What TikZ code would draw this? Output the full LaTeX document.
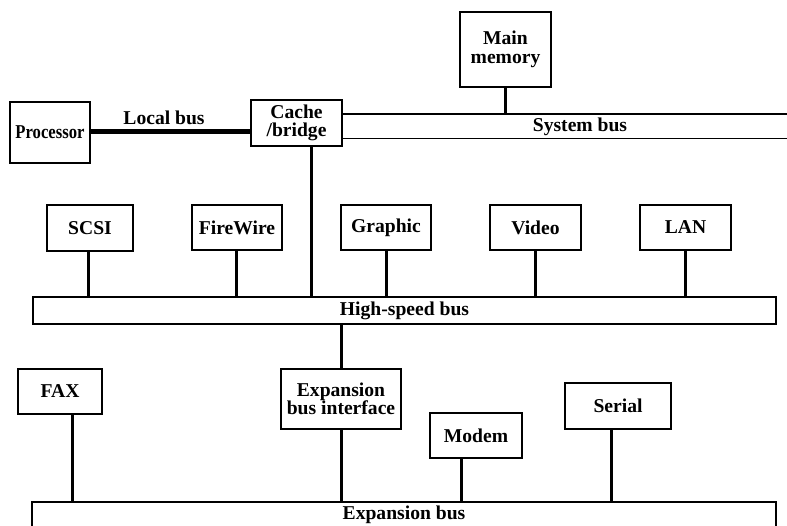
\documentclass[tikz,border=0pt]{standalone}
\usepackage{fontspec}
\usepackage{graphicx}
\setmainfont{Liberation Serif}
\begin{document}
\begin{tikzpicture}[x=1pt,y=-1pt,
  font=\bfseries\fontsize{19.6}{18.5}\selectfont,
  unit/.style={draw, line width=1.8pt, inner sep=0pt, align=center},
  busbox/.style={draw, line width=1.5pt, inner sep=0pt},
  link/.style={line width=3pt},
  localbus/.style={line width=5pt},
  busline/.style={line width=1.5pt}]
\useasboundingbox (0,0) rectangle (787,526);

% processor, cache/bridge and main memory
\node[unit, minimum width=80, minimum height=61] (proc) at (50,132.5) {\scalebox{0.85}[1]{Processor}};
\node[unit, minimum width=91, minimum height=46] (cache) at (296.5,123) {Cache\\/bridge};
\node[unit, minimum width=91, minimum height=75] (mem) at (505.5,49.5) {Main\\memory};

% local bus
\draw[localbus] (proc.east |- 0,132) -- (cache.west |- 0,132);
\node (lbl) at (164,118) {Local bus};

% system bus (two rails running off to the right)
\coordinate (sbtop) at (787,114);
\coordinate (sbbot) at (787,138.5);
\draw[busline] (cache.east |- sbtop) -- (sbtop);
\draw[busline] (cache.east |- sbbot) -- (sbbot);
\node (sblbl) at (580,127) {System bus};
\draw[link] (mem.south) -- (mem.south |- sbtop);

% high-speed bus and its devices
\node[busbox, minimum width=743, minimum height=27] (hs) at (404.5,310.5) {High-speed bus};
\node[unit, minimum width=86, minimum height=46] (scsi) at (90,228) {SCSI};
\node[unit, minimum width=90, minimum height=45] (fw) at (237,227.5) {FireWire};
\node[unit, minimum width=90, minimum height=45] (gfx) at (386,227.5) {Graphic};
\node[unit, minimum width=91, minimum height=45] (video) at (535.5,227.5) {Video};
\node[unit, minimum width=91, minimum height=45] (lan) at (685.5,227.5) {LAN};

\draw[link] ([xshift=-2pt]scsi.south) -- ([xshift=-2pt]scsi.south |- hs.north);
\draw[link] ([xshift=-1pt]fw.south) -- ([xshift=-1pt]fw.south |- hs.north);
\draw[link] (gfx.south) -- (gfx.south |- hs.north);
\draw[link] (video.south) -- (video.south |- hs.north);
\draw[link] (lan.south) -- (lan.south |- hs.north);
\draw[link] ([xshift=14.5pt]cache.south) -- ([xshift=14.5pt]cache.south |- hs.north);

% expansion bus and its devices
\node[busbox, minimum width=744, minimum height=26] (exp) at (404,515) {Expansion bus};
\node[unit, minimum width=84, minimum height=45] (fax) at (60,391.5) {FAX};
\node[unit, minimum width=120, minimum height=60] (expif) at (341,399) {Expansion\\bus interface};
\node[unit, minimum width=92, minimum height=45] (modem) at (476,435.5) {Modem};
\node[unit, minimum width=106, minimum height=46] (serial) at (618,406) {Serial};

\draw[link] (hs.south -| expif.north) -- (expif.north);
\draw[link] ([xshift=12pt]fax.south) -- ([xshift=12pt]fax.south |- exp.north);
\draw[link] (expif.south) -- (expif.south |- exp.north);
\draw[link] ([xshift=-15pt]modem.south) -- ([xshift=-15pt]modem.south |- exp.north);
\draw[link] ([xshift=-7pt]serial.south) -- ([xshift=-7pt]serial.south |- exp.north);
\end{tikzpicture}
\end{document}
